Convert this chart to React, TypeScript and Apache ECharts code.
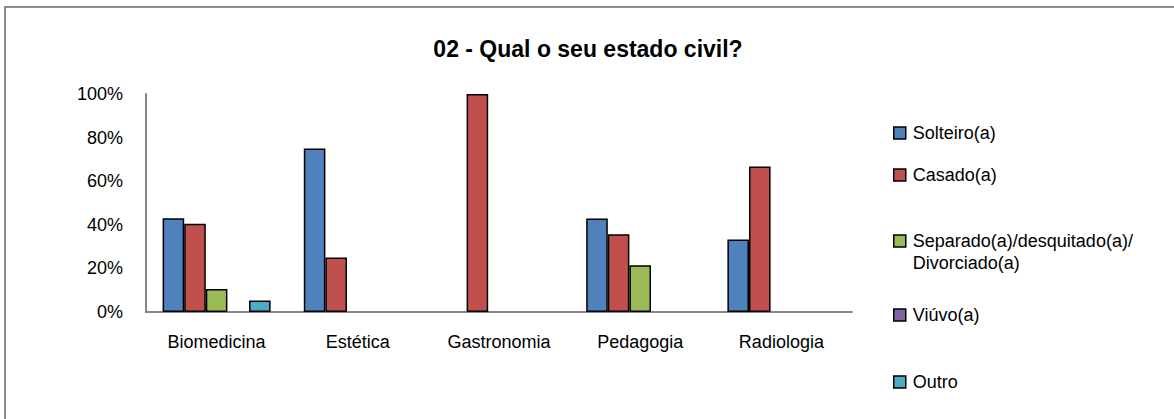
import React, { useEffect, useRef } from "react";
import * as echarts from "echarts";

const categories = ["Biomedicina", "Estética", "Gastronomia", "Pedagogia", "Radiologia"];
const seriesNames = [
  "Solteiro(a)",
  "Casado(a)",
  "Separado(a)/desquitado(a)/\nDivorciado(a)",
  "Viúvo(a)",
  "Outro",
];
const solteiro = [0.43, 0.75, 0, 0.429, 0.333];
const casado = [0.405, 0.25, 1.0, 0.357, 0.667];
const separado = [0.105, 0, 0, 0.214, 0];
const viuvo = [0, 0, 0, 0, 0];
const outro = [0.053, 0, 0, 0, 0];
const yTicks = [0, 0.2, 0.4, 0.6, 0.8, 1.0];

const colors = ["#4F81BD", "#C0504D", "#9BBB59", "#8064A2", "#4BACC6"];
const allValues = [solteiro, casado, separado, viuvo, outro];
const legendCenters = [133, 175, 241, 315, 382];

const FONT = "'Liberation Sans', Arial, sans-serif";

export default function App() {
  const ref = useRef<HTMLDivElement>(null);
  useEffect(() => {
    if (!ref.current) return;
    const chart = echarts.init(ref.current, null, { renderer: "svg" });
    const series = seriesNames.map((name, i) => ({
      name,
      type: "bar",
      data: allValues[i].map((v) => (v === 0 ? "-" : v)),
      barGap: "0%",
      barCategoryGap: "23.5%",
      itemStyle: { color: colors[i], borderColor: "#000", borderWidth: 1.5 },
    }));
    const legends = seriesNames.map((name, i) => ({
      data: [name],
      orient: "vertical",
      left: 893,
      top: i === 2 ? legendCenters[i] - 33 : legendCenters[i] - 11,
      padding: 0,
      itemWidth: 12,
      itemHeight: 12,
      itemGap: 0,
      icon: "rect",
      selectedMode: false,
      formatter: (n: string) => (n.indexOf("\n") >= 0 ? " \n" + n : n),
      itemStyle: { borderColor: "#000", borderWidth: 1.5 },
      textStyle: {
        fontFamily: FONT,
        fontSize: 18,
        color: "#000",
        lineHeight: 22,
        padding: [0, 0, 0, 2],
      },
    }));
    chart.setOption({
      animation: false,
      backgroundColor: "#fff",
      title: {
        text: "02 - Qual o seu estado civil?",
        left: 583,
        top: 32,
        textAlign: "center",
        textStyle: { fontFamily: FONT, fontSize: 23, fontWeight: "bold", color: "#000" },
      },
      graphic: [
        {
          type: "rect",
          shape: { x: 5, y: 7, width: 1300, height: 600 },
          style: { fill: "none", stroke: "#8c8c8c", lineWidth: 2 },
          silent: true,
        },
      ],
      legend: legends,
      grid: { left: 146, right: 322, top: 94, bottom: 107 },
      xAxis: {
        type: "category",
        data: categories,
        axisLine: { lineStyle: { color: "#868686", width: 2 } },
        axisTick: { show: false },
        axisLabel: { fontFamily: FONT, fontSize: 18, color: "#000", margin: 21 },
      },
      yAxis: {
        type: "value",
        min: 0,
        max: 1,
        interval: 0.2,
        axisLine: { show: true, lineStyle: { color: "#868686", width: 2 } },
        axisTick: { show: false },
        splitLine: { show: false },
        axisLabel: {
          fontFamily: FONT,
          fontSize: 18,
          color: "#000",
          margin: 23,
          formatter: (v: number) => {
            const t = yTicks.find((x) => Math.abs(x - v) < 1e-6);
            return Math.round((t ?? v) * 100) + "%";
          },
        },
      },
      series,
    });
    return () => chart.dispose();
  }, []);
  return (
    <div
      ref={ref}
      style={{ position: "fixed", left: 0, top: 0, width: 1174, height: 419 }}
    />
  );
}
